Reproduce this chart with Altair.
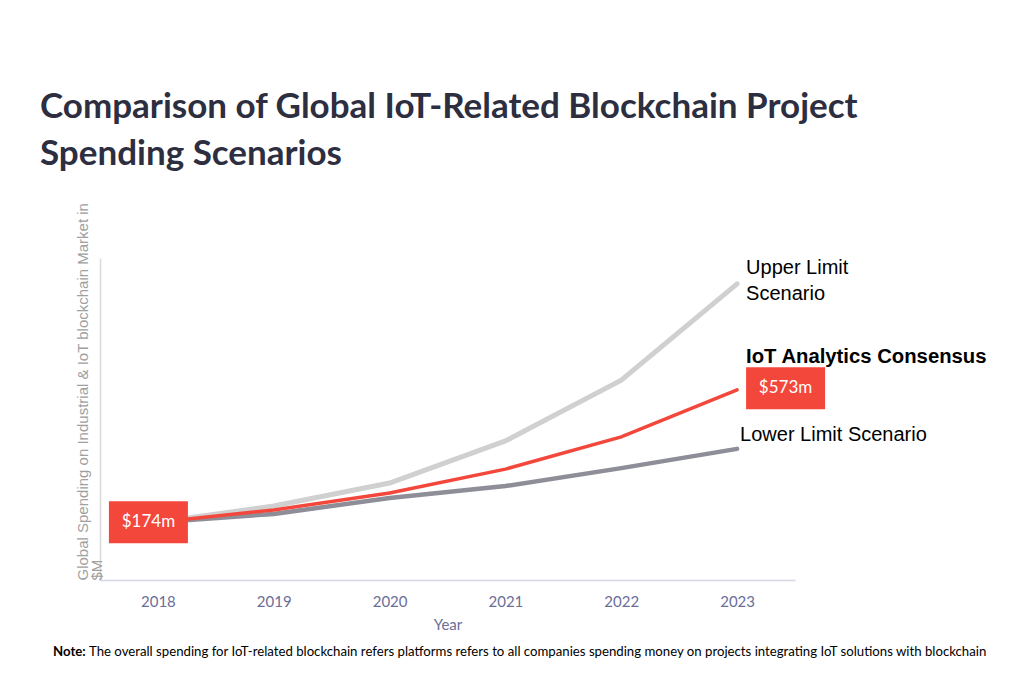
import altair as alt
import pandas as pd

years = ["2018", "2019", "2020", "2021", "2022", "2023"]
upper = [174, 223, 292, 419, 602, 892]
consensus = [174, 211, 262, 334, 431, 573]
lower = [174, 199, 247, 283, 337, 395]

series_names = ["Upper Limit Scenario", "Lower Limit Scenario", "IoT Analytics Consensus"]
series_colors = ["#d0d0d0", "#8e8e98", "#f4473b"]
series_widths = [5, 4.5, 3.5]

title_lines = ["Comparison of Global IoT-Related Blockchain Project", "Spending Scenarios"]
y_title = ["Global Spending on Industrial & IoT blockchain Market in", "$M"]
note_bold = "Note:"
note_text = ("The overall spending for IoT-related blockchain refers platforms refers to all "
             "companies spending money on projects integrating IoT solutions with blockchain")

rows = []
for name, vals in zip(series_names, [upper, lower, consensus]):
    for yr, v in zip(years, vals):
        rows.append({"year": yr, "value": v, "series": name})
df = pd.DataFrame(rows)

x_enc = alt.X(
    "year:O",
    scale=alt.Scale(type="point", padding=0.5, domain=years),
    axis=alt.Axis(
        title="Year", labelAngle=0, ticks=False, grid=False,
        domainColor="#d6d6e6", domainWidth=1.5,
        labelColor="#6b6e98", labelFont="Lato", labelFontSize=15, labelPadding=14,
        titleColor="#6b6e98", titleFont="Lato", titleFontSize=15, titleFontWeight="normal",
        titlePadding=8,
    ),
)
y_enc = alt.Y(
    "value:Q",
    scale=alt.Scale(domain=[0, 970], nice=False),
    axis=alt.Axis(
        labels=False, ticks=False, grid=False,
        domainColor="#d9d9d9", domainWidth=1.5,
        title=y_title, titleColor="#a0a0a0", titleFont="Liberation Sans",
        titleFontSize=15, titleFontWeight="normal", titleAngle=270,
        titleX=-25, titleY=322, titleAlign="left", titleBaseline="top",
        titleLineHeight=14,
    ),
)

base = alt.Chart(df)
layers = []
for name, col, w in zip(series_names, series_colors, series_widths):
    layers.append(
        base.transform_filter(alt.datum.series == name)
        .mark_line(color=col, strokeWidth=w, strokeCap="round")
        .encode(x=x_enc, y=y_enc)
    )

box_path = "M-1,-0.53L1,-0.53L1,0.53L-1,0.53Z"
start_df = pd.DataFrame({"year": [years[0]], "value": [consensus[0]], "label": ["$174m"]})
end_df = pd.DataFrame({"year": [years[-1]], "value": [consensus[-1]], "label": ["$573m"]})

box_start = alt.Chart(start_df).mark_point(
    shape=box_path, size=79 * 79, filled=True, color="#f4473b", opacity=1, xOffset=-9.5, yOffset=0
).encode(x="year:O", y="value:Q")
box_start_text = alt.Chart(start_df).mark_text(
    font="Lato", fontSize=17, color="white", dx=-9.5, dy=0, baseline="middle"
).encode(x="year:O", y="value:Q", text="label:N")

box_end = alt.Chart(end_df).mark_point(
    shape=box_path, size=79 * 79, filled=True, color="#f4473b", opacity=1, xOffset=48.5, yOffset=-1.5
).encode(x="year:O", y="value:Q")
box_end_text = alt.Chart(end_df).mark_text(
    font="Lato", fontSize=17, color="white", dx=48.5, dy=-1.5, baseline="middle"
).encode(x="year:O", y="value:Q", text="label:N")

up_df = pd.DataFrame({"year": [years[-1]], "value": [upper[-1]], "l1": ["Upper Limit"], "l2": ["Scenario"]})
up_t1 = alt.Chart(up_df).mark_text(
    font="Liberation Sans", fontSize=20, color="black", align="left", baseline="middle", dx=9, dy=-16
).encode(x="year:O", y="value:Q", text="l1:N")
up_t2 = alt.Chart(up_df).mark_text(
    font="Liberation Sans", fontSize=20, color="black", align="left", baseline="middle", dx=9, dy=10
).encode(x="year:O", y="value:Q", text="l2:N")

con_df = pd.DataFrame({"year": [years[-1]], "value": [consensus[-1]], "l": ["IoT Analytics  Consensus"]})
con_t = alt.Chart(con_df).mark_text(
    font="Liberation Sans", fontSize=20.3, fontWeight="bold", color="black",
    align="left", baseline="middle", dx=9, dy=-33
).encode(x="year:O", y="value:Q", text="l:N")

low_df = pd.DataFrame({"year": [years[-1]], "value": [lower[-1]], "l": ["Lower Limit Scenario"]})
low_t = alt.Chart(low_df).mark_text(
    font="Liberation Sans", fontSize=20, color="black", align="left", baseline="middle", dx=3, dy=-14
).encode(x="year:O", y="value:Q", text="l:N")

note_df = pd.DataFrame({"b": [note_bold], "t": [note_text]})
note_b = alt.Chart(note_df).mark_text(
    font="Lato", fontSize=13.2, fontWeight="bold", color="black", align="left", baseline="middle"
).encode(x=alt.value(-47), y=alt.value(394), text="b:N")
note_t = alt.Chart(note_df).mark_text(
    font="Lato", fontSize=13.2, color="black", align="left", baseline="middle"
).encode(x=alt.value(-11), y=alt.value(394), text="t:N")

chart = alt.layer(
    *layers, box_start, box_start_text, box_end, box_end_text,
    up_t1, up_t2, con_t, low_t, note_b, note_t
).properties(
    width=695,
    height=322,
    padding={"left": 92, "top": 250, "right": 221, "bottom": 95},
    autosize=alt.AutoSizeParams(type="none"),
    title=alt.TitleParams(
        text=title_lines, anchor="start", frame="group", dx=-60,
        font="Lato", fontSize=35, fontWeight="bold", color="#2d2e3f",
        lineHeight=47, offset=30,
    ),
).configure(background="white").configure_view(strokeWidth=0)

chart.save("out.html", embed_options={"renderer": "svg", "actions": False})
